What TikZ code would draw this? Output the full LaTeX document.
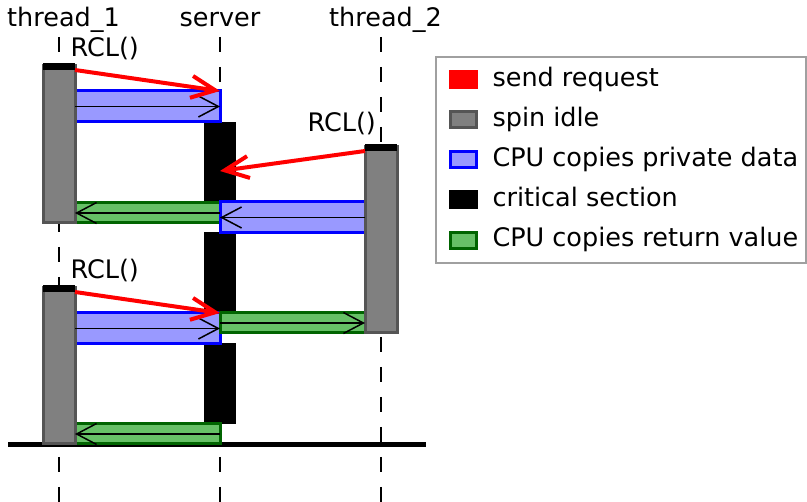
\documentclass[tikz,border=0pt]{standalone}
\usepackage{fontspec}
\setmainfont{DejaVu Sans}
\usetikzlibrary{arrows.meta}
\definecolor{idlefill}{RGB}{128,128,128}
\definecolor{idleedge}{RGB}{85,85,85}
\definecolor{privfill}{RGB}{153,153,255}
\definecolor{privedge}{RGB}{0,0,255}
\definecolor{retfill}{RGB}{102,192,102}
\definecolor{retedge}{RGB}{0,100,0}
\definecolor{legendedge}{RGB}{160,160,160}
\begin{document}
\begin{tikzpicture}[x=1pt, y=-1pt,
		font=\fontsize{25.5pt}{30pt}\selectfont,
		box/.style={rectangle, inner sep=0pt, outer sep=0pt, anchor=north west},
		spinbox/.style={box, draw=idleedge, fill=idlefill, line width=3pt, minimum width=32pt},
		capbox/.style={box, fill=black, minimum width=32pt, minimum height=7pt},
		critbox/.style={box, fill=black, minimum width=32pt},
		privbox/.style={box, draw=privedge, fill=privfill, line width=3pt, minimum width=145pt, minimum height=31pt},
		retbox/.style={box, draw=retedge, fill=retfill, line width=3pt, minimum width=145pt, minimum height=20pt},
		lifeline/.style={line width=2pt, dash pattern=on 15pt off 15pt},
		copyarrow/.style={line width=1.5pt, -{Straight Barb[length=20pt,width=21pt]}},
		request/.style={red, line width=4pt, -{Straight Barb[length=24pt,width=22pt]}},
		rcltext/.style={anchor=base west},
		patch/.style={box, minimum width=29pt, minimum height=19pt},
		linepatch/.style={box, line width=3pt, minimum width=26pt, minimum height=16pt} ]
	\useasboundingbox (0,0) rectangle (807,502);
	% lifelines
	\node[anchor=base] (hthread1) at (63.5,27) {thread\_1};
	\node[anchor=base] (hserver) at (220,27) {server};
	\node[anchor=base] (hthread2) at (385.5,27) {thread\_2};
	\coordinate (t1top) at (59,37);  \coordinate (t1bot) at (59,502);
	\coordinate (svtop) at (220,37); \coordinate (svbot) at (220,502);
	\coordinate (t2top) at (381,37); \coordinate (t2bot) at (381,502);
	\draw[lifeline] (t1top) -- (t1bot);
	\draw[lifeline] (svtop) -- (svbot);
	\draw[lifeline] (t2top) -- (t2bot);
	\coordinate (axisl) at (8,444.5); \coordinate (axisr) at (426,444.5);
	\draw[line width=5pt] (axisl) -- (axisr);
	% critical sections
	\node[critbox, minimum height=80pt] (crit1) at (204,122) {};
	\node[critbox, minimum height=80pt] (crit2) at (204,232) {};
	\node[critbox, minimum height=81pt] (crit3) at (204,343) {};
	% copies
	\node[privbox] (priv1) at (75,91) {};
	\node[retbox] (ret1) at (75,203) {};
	\node[privbox] (priv2) at (220,202) {};
	\node[privbox] (priv3) at (75,313) {};
	\node[retbox] (ret2) at (220,313) {};
	\node[retbox] (ret3) at (75,424) {};
	% spinning threads
	\node[spinbox, minimum height=157pt] (spin1) at (43,66) {};
	\node[capbox] (cap1) at (43,63) {};
	\node[spinbox, minimum height=186pt] (spin2) at (365,147) {};
	\node[capbox] (cap2) at (365,144) {};
	\node[spinbox, minimum height=156pt] (spin3) at (43,288) {};
	\node[capbox] (cap3) at (43,285) {};
	\draw[copyarrow] (priv1.west) -- (priv1.east);
	\draw[copyarrow] (ret1.east) -- (ret1.west);
	\draw[copyarrow] (priv2.east) -- (priv2.west);
	\draw[copyarrow] (priv3.west) -- (priv3.east);
	\draw[copyarrow] (ret2.west) -- (ret2.east);
	\draw[copyarrow] (ret3.east) -- (ret3.west);
	% requests
	\coordinate (req2) at (220,171);
	\draw[request] (cap1.south east) -- (priv1.north east);
	\draw[request] (cap2.south west) -- (req2);
	\draw[request] (cap3.south east) -- (priv3.north east);
	\node[rcltext] (rcl1) at (67,57) {RCL()};
	\node[rcltext] (rcl2) at (304,132) {RCL()};
	\node[rcltext] (rcl3) at (67,279) {RCL()};
	% legend
	\node[box, draw=legendedge, line width=1.5pt, minimum width=370pt, minimum height=206pt] (legend) at (436,57) {};
	\node[patch, fill=red] (pred) at (449,70) {};
	\node[linepatch, draw=idleedge, fill=idlefill] (pidle) at (450.5,111.5) {};
	\node[linepatch, draw=privedge, fill=privfill] (ppriv) at (450.5,151.5) {};
	\node[patch, fill=black] (pcrit) at (449,190) {};
	\node[linepatch, draw=retedge, fill=retfill] (pret) at (450.5,232.5) {};
	\node[rcltext] (lred) at (489,87) {send request};
	\node[rcltext] (lidle) at (489,127) {spin idle};
	\node[rcltext] (lpriv) at (489,167) {CPU copies private data};
	\node[rcltext] (lcrit) at (489,207) {critical section};
	\node[rcltext] (lret) at (489,247) {CPU copies return value};
\end{tikzpicture}
\end{document}
